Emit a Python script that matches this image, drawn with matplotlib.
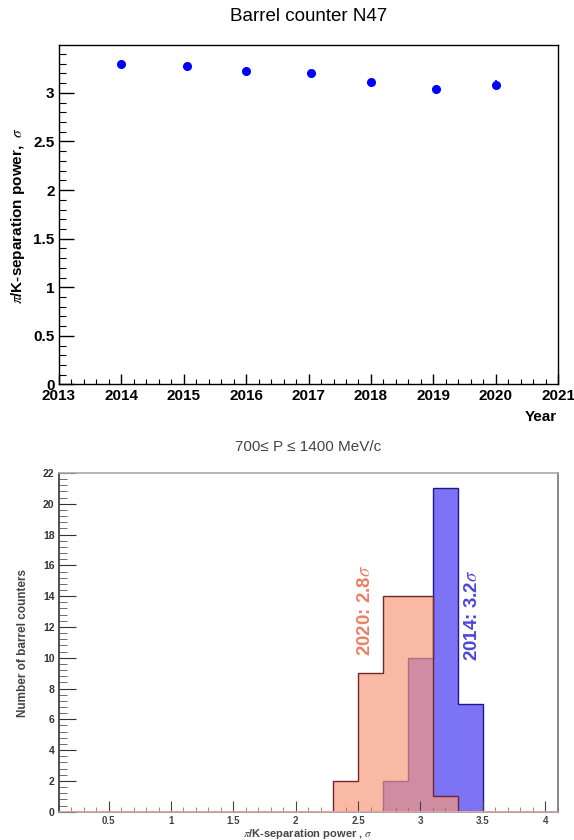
import numpy as np
import matplotlib
matplotlib.use("Agg")
import matplotlib.pyplot as plt
from matplotlib.ticker import MultipleLocator

plt.rcParams['font.family'] = ['Liberation Sans', 'DejaVu Sans']
plt.rcParams['mathtext.fontset'] = 'stix'

# top panel: pi/K separation vs year
years = [2014.0, 2015.05, 2016.0, 2017.04, 2018.0, 2019.04, 2020.0]
sep_power = [3.294, 3.281, 3.226, 3.202, 3.116, 3.044, 3.082]
sep_err = [0.01, 0.01, 0.01, 0.01, 0.01, 0.01, 0.05]

# bottom panel: histograms of barrel counters, bins of 0.2 from 0.1 to 4.1
bin_edges = np.round(np.arange(0.1, 4.11, 0.2), 2)
counts_2014 = {2.7: 2, 2.9: 10, 3.1: 21, 3.3: 7}
counts_2020 = {2.3: 2, 2.5: 9, 2.7: 14, 2.9: 14, 3.1: 1}


def fill_counts(d):
    c = np.zeros(len(bin_edges) - 1)
    for lo, n in d.items():
        c[np.argmin(abs(bin_edges[:-1] - lo))] = n
    return c


h2014 = fill_counts(counts_2014)
h2020 = fill_counts(counts_2020)

fig = plt.figure(figsize=(5.74, 8.40), dpi=100)

# ---- top
ax = fig.add_axes([0.1023, 0.5423, 0.8704, 0.4038])
ax.errorbar(years, sep_power, yerr=sep_err, fmt='o', color='#0000ff', ms=5.5, elinewidth=1.2, capsize=0)
ax.set_xlim(2013, 2021)
ax.set_ylim(0, 3.49)
ax.xaxis.set_major_locator(MultipleLocator(1))
ax.xaxis.set_minor_locator(MultipleLocator(0.2))
ax.yaxis.set_major_locator(MultipleLocator(0.5))
ax.yaxis.set_minor_locator(MultipleLocator(0.1))
ax.set_yticks([0, 0.5, 1, 1.5, 2, 2.5, 3])
ax.set_yticklabels(['0', '0.5', '1', '1.5', '2', '2.5', '3'])
ax.tick_params(axis='x', which='major', direction='in', length=7, width=1, labelsize=11, pad=3)
ax.tick_params(axis='x', which='minor', direction='in', length=3.8, width=0.8)
ax.tick_params(axis='y', which='major', direction='in', length=10.8, width=1, labelsize=11, pad=3)
ax.tick_params(axis='y', which='minor', direction='in', length=5.3, width=0.8)
for lab in ax.get_xticklabels() + ax.get_yticklabels():
    lab.set_fontweight('bold')
for s in ax.spines.values():
    s.set_linewidth(1)

fig.text(0.5375, 0.9798, 'Barrel counter N47', ha='center', va='center', fontsize=13.5)
fig.text(0.970, 0.5036, 'Year', ha='right', va='center', fontsize=11, fontweight='bold')
fig.text(0.031, 0.744, r'$\pi$/K-separation power,  $\sigma$', ha='center', va='center',
         rotation=90, fontsize=11, fontweight='bold')

# ---- bottom
ax2 = fig.add_axes([0.1023, 0.0337, 0.8693, 0.4032])
ax2.hist(bin_edges[:-1], bins=bin_edges, weights=h2014, histtype='stepfilled',
         facecolor='#7d73f5', edgecolor='#1a1a8c', lw=1)
ax2.hist(bin_edges[:-1], bins=bin_edges, weights=h2020, histtype='stepfilled',
         facecolor='#f8987b', alpha=0.68, edgecolor='none')
ax2.hist(bin_edges[:-1], bins=bin_edges, weights=h2020, histtype='step',
         edgecolor='#6b2a2a', lw=1)
ax2.axhline(0, color='#f0a0a0', lw=2, zorder=3)
ax2.set_xlim(0.1, 4.1)
ax2.set_ylim(0, 22)
ax2.xaxis.set_major_locator(MultipleLocator(0.5))
ax2.xaxis.set_minor_locator(MultipleLocator(0.1))
ax2.yaxis.set_major_locator(MultipleLocator(2))
ax2.yaxis.set_minor_locator(MultipleLocator(0.4))
ax2.set_xticks([0.5, 1, 1.5, 2, 2.5, 3, 3.5, 4])
ax2.set_xticklabels(['0.5', '1', '1.5', '2', '2.5', '3', '3.5', '4'])
ax2.tick_params(axis='x', which='major', direction='in', length=8, width=0.8, labelsize=7,
                colors='#444444', pad=3)
ax2.tick_params(axis='x', which='minor', direction='in', length=3.5, width=0.6, colors='#777777')
ax2.tick_params(axis='y', which='major', direction='in', length=12, width=0.8, labelsize=7.5,
                colors='#333333', pad=3)
ax2.tick_params(axis='y', which='minor', direction='in', length=6, width=0.6, colors='#555555')
for lab in ax2.get_xticklabels() + ax2.get_yticklabels():
    lab.set_fontweight('bold')
ax2.spines['left'].set_color('#333333')
ax2.spines['bottom'].set_color('#999999')
ax2.spines['top'].set_color('#aaaaaa')
ax2.spines['right'].set_color('#777777')
for s in ax2.spines.values():
    s.set_linewidth(1.2)

ax2.text(2.56, 13.06, r'2020: 2.8$\sigma$', rotation=90, ha='center', va='center',
         fontsize=13.5, fontweight='bold', color='#ec8064')
ax2.text(3.42, 12.72, r'2014: 3.2$\sigma$', rotation=90, ha='center', va='center',
         fontsize=13.5, fontweight='bold', color='#4b45dc')

fig.text(0.537, 0.4682, '700≤ P ≤ 1400 MeV/c', ha='center', va='center',
         fontsize=11, color='#444444')
fig.text(0.0395, 0.235, 'Number of barrel counters', ha='center', va='center',
         rotation=90, fontsize=8.5, fontweight='bold', color='#444444')
fig.text(0.537, 0.0075, r'$\pi$/K-separation power , $\sigma$', ha='center', va='center',
         fontsize=8, fontweight='bold', color='#444444')

fig.savefig('out.png', dpi=100)
